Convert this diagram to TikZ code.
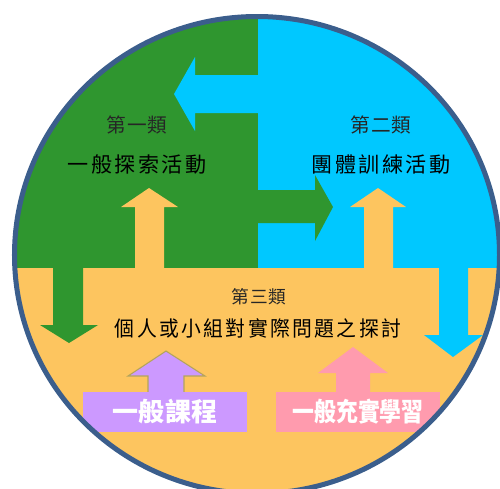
\documentclass[tikz,border=0pt]{standalone}
\usepackage{fontspec}
\newfontfamily\cjk[LetterSpace=12]{Noto Sans CJK TC}
\newfontfamily\cjkeng[LetterSpace=4]{Noto Sans CJK TC}
\newfontfamily\cjkplain{Noto Sans CJK TC}
\usetikzlibrary{calc,positioning}
\definecolor{feldgruen}{HTML}{2F962F}
\definecolor{himmel}{HTML}{00C8FF}
\definecolor{sand}{HTML}{FDC55F}
\definecolor{lila}{HTML}{CC99FF}
\definecolor{rosa}{HTML}{FF9BAE}
\definecolor{rand}{HTML}{3B5E8C}
\definecolor{oliv}{HTML}{B4A55A}

\begin{document}
\begin{tikzpicture}[x=0.02cm,y=-0.02cm,
  klasse/.style={font=\cjkeng\fontsize{11.2pt}{13pt}\selectfont,text=black!85,inner sep=0pt},
  titel/.style={font=\cjk\fontsize{12pt}{14pt}\selectfont,text=black,inner sep=0pt},
  kasten/.style={font=\cjkplain\bfseries\fontsize{14.8pt}{16pt}\selectfont,text=white,inner sep=0pt}]
\useasboundingbox (0,0) rectangle (500,488);
\pgfmathsetmacro{\mx}{257}
\pgfmathsetmacro{\my}{255}
\begin{scope}
\clip (\mx,\my) ellipse [x radius=242.5, y radius=238.5];
\fill[feldgruen] (0,0) rectangle (258,268);
\fill[himmel] (258,0) rectangle (500,268);
\fill[sand] (0,268) rectangle (500,500);
\fill[himmel] (259,75) -- (195,75) -- (195,57) -- (174,94) -- (195,131) -- (195,113) -- (259,113) -- cycle;
\fill[feldgruen] (257,190) -- (315,190) -- (315,175) -- (333,207) -- (315,241) -- (315,223) -- (257,223) -- cycle;
\fill[sand] (135,269) -- (135,207) -- (121,207) -- (149,188) -- (178,207) -- (164,207) -- (164,269) -- cycle;
\fill[sand] (364,269) -- (364,207) -- (350,207) -- (378,188) -- (406,207) -- (393,207) -- (393,269) -- cycle;
\fill[feldgruen] (53,267) -- (53,325) -- (40,325) -- (69,343) -- (98,325) -- (83,325) -- (83,267) -- cycle;
\fill[himmel] (439,267) -- (439,335) -- (424,335) -- (453,357) -- (483,335) -- (468,335) -- (468,267) -- cycle;
\draw[fill=lila,draw=oliv,line width=0.6pt] (148,392) -- (148,376) -- (128,376) -- (166,351) -- (205,376) -- (184,376) -- (184,392);
\fill[rosa] (336,392) -- (336,373) -- (318,373) -- (353,347) -- (388,373) -- (370,373) -- (370,392) -- cycle;
\fill[lila] (83,392) rectangle (247,432);
\fill[rosa] (276,392) rectangle (440,432);
\end{scope}
\draw[rand,line width=2.85pt] (\mx,\my) ellipse [x radius=242.5, y radius=238.5];
\node[klasse] (k1) at (137,125) {第一類};
\node[titel] (t1) at (137,164) {一般探索活動};
\node[klasse] (k2) at (381,125) {第二類};
\node[titel] (t2) at (381,164) {團體訓練活動};
\node[klasse,scale=0.9] (k3) at (259,297) {第三類};
\node[titel,xscale=0.94] (t3) at (258,328) {個人或小組對實際問題之探討};
\node[kasten] (kurs) at (165,412) {一般課程};
\node[kasten,xscale=0.84] (lernen) at (358,412) {一般充實學習};
\end{tikzpicture}
\end{document}
